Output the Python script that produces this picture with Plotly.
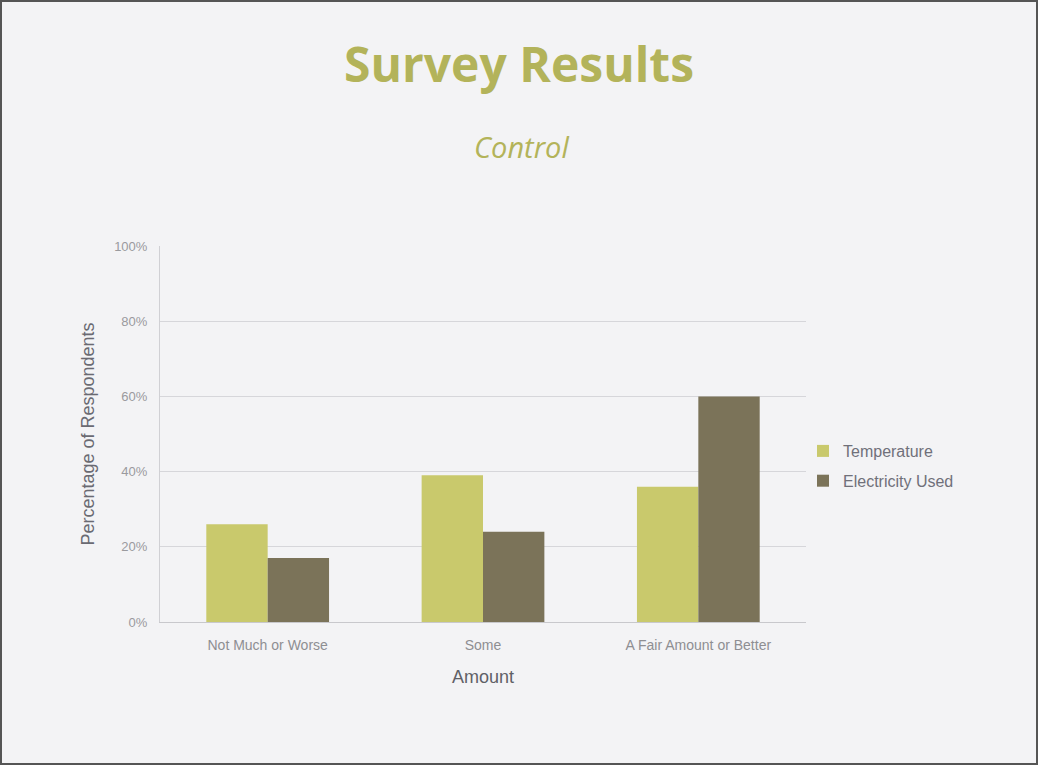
import plotly.graph_objects as go

categories = ["Not Much or Worse", "Some", "A Fair Amount or Better"]
temperature = [26, 39, 36]
electricity = [17, 24, 60]
y_ticks = [0, 20, 40, 60, 80, 100]
y_tick_labels = ["0%", "20%", "40%", "60%", "80%", "100%"]

fig = go.Figure()
fig.add_trace(go.Bar(name="Temperature", x=categories, y=temperature, legendgroup="t",
                     marker=dict(color="#c9c96c", line=dict(width=0))))
fig.add_trace(go.Bar(name="Electricity Used", x=categories, y=electricity, legendgroup="e",
                     marker=dict(color="#7b7359", line=dict(width=0))))

W, H = 1038, 765
L, R, T, B = 160, 232, 246, 143
plot_w = W - L - R
plot_h = H - T - B

def px_x(x):
    return (x - L) / plot_w

def px_y(y):
    return (H - B - y) / plot_h

fig.update_layout(
    width=W, height=H,
    paper_bgcolor="#f3f3f5", plot_bgcolor="#f3f3f5",
    margin=dict(l=L, r=R, t=T, b=B),
    barmode="group", bargap=0.43, bargroupgap=0,
    font=dict(family="Liberation Sans, Arial, sans-serif", color="#8a8a8a"),
    showlegend=True,
    legend=dict(x=px_x(803), y=px_y(466), xanchor="left", yanchor="middle",
                font=dict(size=16, color="#70707a"), bgcolor="rgba(0,0,0,0)",
                itemwidth=30, tracegroupgap=6),
    xaxis=dict(showgrid=False, showline=True, linecolor="#c8c8cc", linewidth=1,
               tickfont=dict(size=14, color="#8e8e92"), ticks="", ticklabelstandoff=10,
               title=dict(text="Amount", font=dict(size=18, color="#606066"), standoff=18)),
    yaxis=dict(range=[0, 100], tickvals=y_ticks, ticktext=y_tick_labels,
               showgrid=True, gridcolor="#d6d6da", gridwidth=1,
               zeroline=False, showline=True, linecolor="#d0d0d4",
               tickfont=dict(size=13, color="#9a9a9e"), ticks="", ticklabelstandoff=9,
               title=dict(text="Percentage of Respondents", font=dict(size=18, color="#6a6a72"), standoff=14)),
    annotations=[
        dict(text="<b>Survey Results</b>", x=px_x(519), y=px_y(63), xref="paper", yref="paper",
             yanchor="middle", showarrow=False,
             font=dict(family="Open Sans, sans-serif", size=48, color="#b3b35a")),
        dict(text="<i>Control</i>", x=px_x(521), y=px_y(146), xref="paper", yref="paper",
             yanchor="middle", showarrow=False,
             font=dict(family="Open Sans, sans-serif", size=29, color="#b3b35a")),
    ],
)

fig.add_shape(type="rect", xref="paper", yref="paper",
              x0=px_x(1), x1=px_x(W - 1), y0=px_y(H - 1), y1=px_y(1),
              line=dict(color="#555555", width=2), fillcolor="rgba(0,0,0,0)")

fig.write_html("out.html", config={"displayModeBar": False},
               post_script="document.body.style.margin='0';document.body.style.background='#f3f3f5';")
